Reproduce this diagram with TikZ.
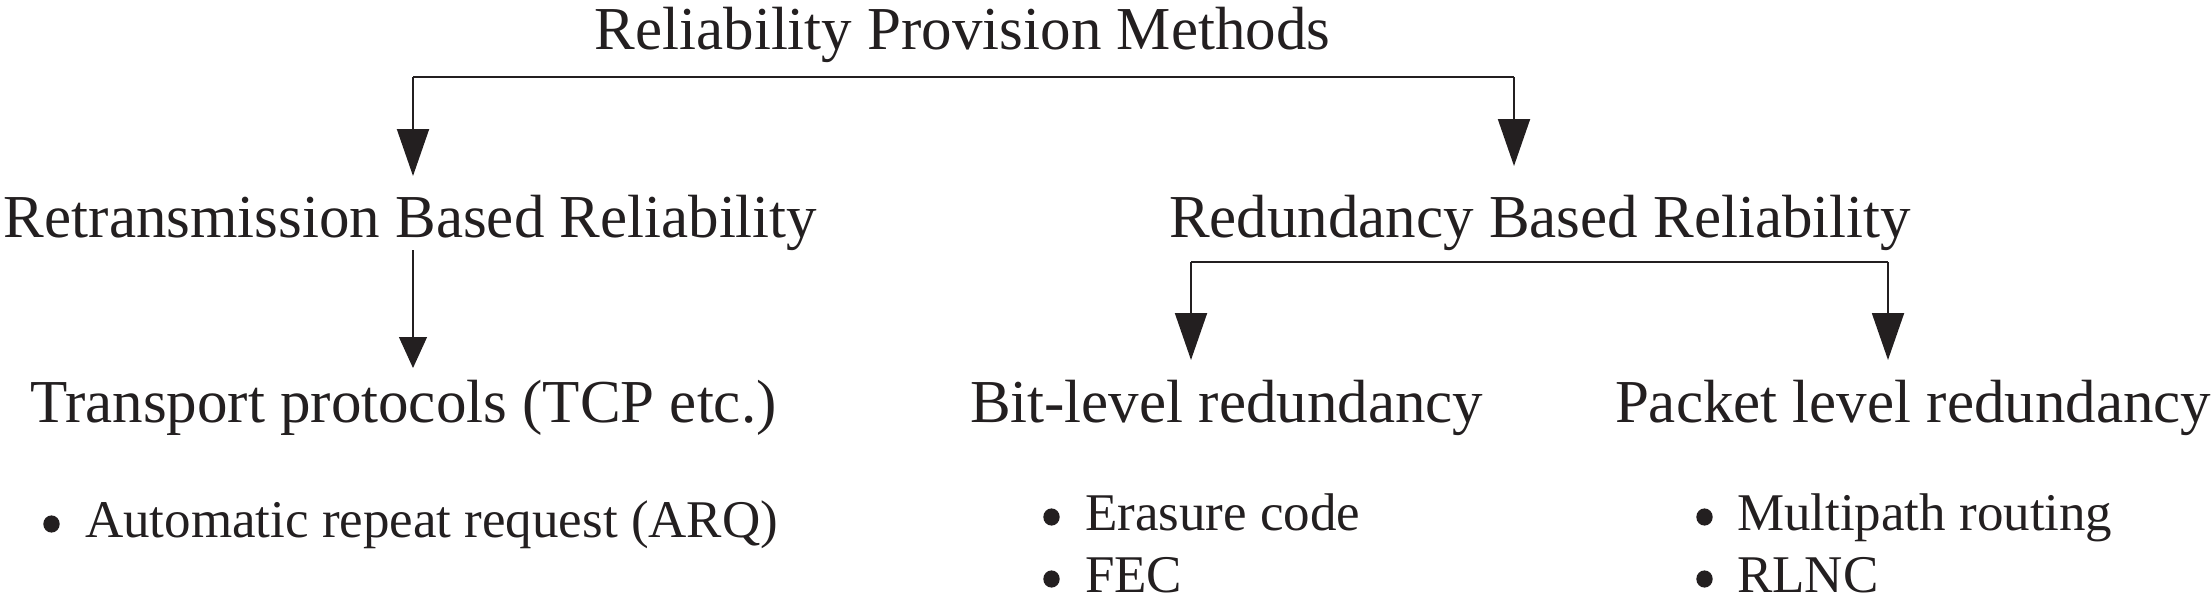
\documentclass[tikz,border=0pt]{standalone}
\usepackage{fontspec}
\setmainfont{Liberation Serif}
\usetikzlibrary{arrows.meta}
\definecolor{ink}{HTML}{231F20}
\begin{document}
\begin{tikzpicture}[x=1pt,y=-1pt,
  lbl/.style={inner sep=0pt,outer sep=0pt,anchor=base west,text=ink,font=\fontsize{61}{70}\selectfont},
  item/.style={inner sep=0pt,outer sep=0pt,anchor=base west,text=ink,font=\fontsize{53}{60}\selectfont},
  dot/.style={fill=ink},
  conn/.style={draw=ink,line width=2pt},
  bigarr/.style={draw=ink,line width=2pt,-{Triangle[length=47pt,width=32pt]}},
  smallarr/.style={draw=ink,line width=1.2pt,-{Triangle[length=31pt,width=28pt]}}]
\useasboundingbox (0,0) rectangle (2212,602);
% texts
\node[lbl,anchor=base] (title) at (962.5,50) {Reliability Provision Methods};
\node[lbl] (retr) at (4,237) {Retransmission Based Reliability};
\node[lbl] (redu) at (1169,237) {Redundancy Based Reliability};
\node[lbl] (trans) at (30,422) {Transport protocols (TCP etc.)};
\node[lbl] (bit) at (970,422) {Bit-level redundancy};
\node[lbl] (pack) at (1615,422) {Packet level redundancy};
\node[item] (arq) at (85,537) {Automatic repeat request (ARQ)};
\node[item] (eras) at (1085,530) {Erasure code};
\node[item] (fec) at (1085,592) {FEC};
\node[item] (multi) at (1737,530) {Multipath routing};
\node[item] (rlnc) at (1737,592) {RLNC};
% bullets
\fill[dot] (51.5,524) ellipse (8.2pt and 8.6pt);
\fill[dot] (1051.5,517) ellipse (8.2pt and 8.6pt);
\fill[dot] (1051.5,579) ellipse (8.2pt and 8.6pt);
\fill[dot] (1704.5,517) ellipse (8.2pt and 8.6pt);
\fill[dot] (1704.5,579) ellipse (8.2pt and 8.6pt);
% first bracket
\coordinate (b1l) at (413,77.5);
\coordinate (b1r) at (1514,77.5);
\coordinate (t1) at (413,176);
\coordinate (t2) at (1514,166);
\draw[conn] (b1l) -- (b1r);
\draw[bigarr] (b1l) -- (t1);
\draw[bigarr] (b1r) -- (t2);
% retransmission -> transport
\coordinate (r1) at (413,250);
\coordinate (r2) at (413,368);
\draw[smallarr] (r1) -- (r2);
% second bracket
\coordinate (b2l) at (1191,262);
\coordinate (b2r) at (1888,262);
\coordinate (t3) at (1191,360);
\coordinate (t4) at (1888,360);
\draw[conn] (b2l) -- (b2r);
\draw[bigarr] (b2l) -- (t3);
\draw[bigarr] (b2r) -- (t4);
\end{tikzpicture}
\end{document}
